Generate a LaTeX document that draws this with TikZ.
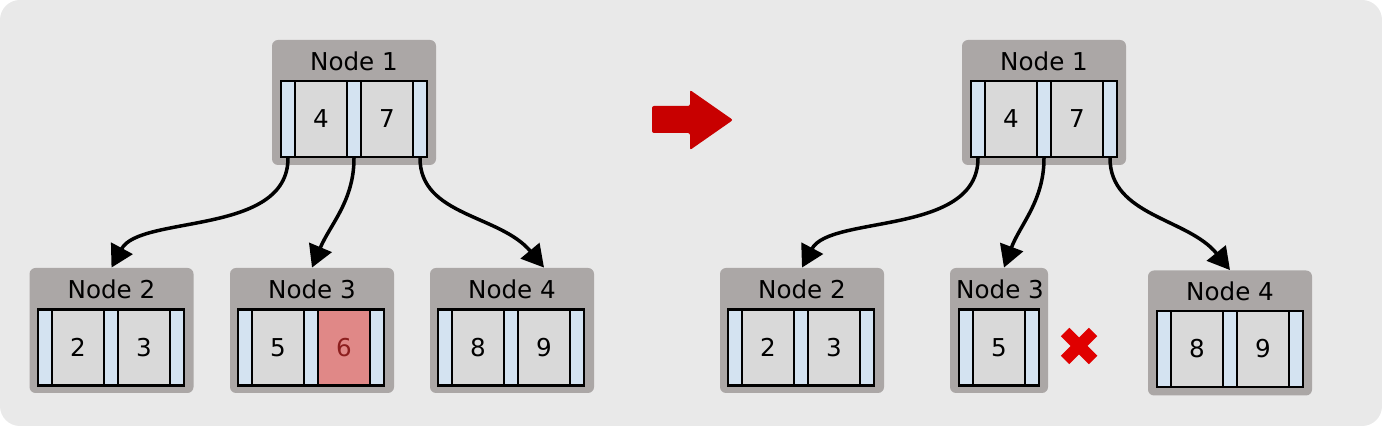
\documentclass[tikz,border=0pt]{standalone}
\usepackage{fontspec}
\setmainfont{DejaVu Sans}
\usetikzlibrary{arrows.meta}
\definecolor{bgGray}{HTML}{E9E9E9}
\definecolor{boxGray}{HTML}{ABA7A6}
\definecolor{keyGray}{HTML}{D9D9D9}
\definecolor{ptrBlue}{HTML}{D4E3F1}
\definecolor{delRed}{HTML}{E08887}
\definecolor{delText}{HTML}{8C1E1E}
\definecolor{moveRed}{HTML}{C80000}
\definecolor{crossRed}{HTML}{E00000}

\begin{document}
\begin{tikzpicture}[x=0.5pt, y=-0.5pt, font=\fontsize{12.3}{14}\selectfont,
  bbox/.style={fill=boxGray, rounded corners=3pt, inner sep=0, minimum width=82pt, minimum height=62.5pt},
  ptr/.style={draw, line width=1.1pt, fill=ptrBlue, inner sep=0, minimum width=7pt, minimum height=38pt},
  keycell/.style={draw, line width=1.1pt, fill=keyGray, inner sep=0, minimum width=26pt, minimum height=38pt},
  link/.style={line width=1.75pt, -{Triangle[length=11pt,width=12pt]}}]
\useasboundingbox (0,0) rectangle (1382,426);
\fill[white] (0,0) rectangle (1382,426);
\fill[bgGray, rounded corners=10pt] (0,0) rectangle (1382,426);

% before: left tree
\node[bbox] (L1) at (354,102.5) {};
\node (L1t) at (354,61) {Node 1};
\node[ptr] (L1p1) at (288,119) {};
\node[keycell] (L1k1) at (321,119) {4};
\node[ptr] (L1p2) at (354,119) {};
\node[keycell] (L1k2) at (387,119) {7};
\node[ptr] (L1p3) at (420,119) {};

\node[bbox] (L2) at (111.5,330.5) {};
\node (L2t) at (111.5,289) {Node 2};
\node[ptr] (L2p1) at (45,347.5) {};
\node[keycell] (L2k1) at (78,347.5) {2};
\node[ptr] (L2p2) at (111,347.5) {};
\node[keycell] (L2k2) at (144,347.5) {3};
\node[ptr] (L2p3) at (177,347.5) {};

\node[bbox] (L3) at (312,330.5) {};
\node (L3t) at (312,289) {Node 3};
\node[ptr] (L3p1) at (245,347.5) {};
\node[keycell] (L3k1) at (278,347.5) {5};
\node[ptr] (L3p2) at (311,347.5) {};
\node[keycell, fill=delRed, text=delText] (L3k2) at (344,347.5) {6};
\node[ptr] (L3p3) at (377,347.5) {};

\node[bbox] (L4) at (512,330.5) {};
\node (L4t) at (512,289) {Node 4};
\node[ptr] (L4p1) at (445,347.5) {};
\node[keycell] (L4k1) at (478,347.5) {8};
\node[ptr] (L4p2) at (511,347.5) {};
\node[keycell] (L4k2) at (544,347.5) {9};
\node[ptr] (L4p3) at (577,347.5) {};

\draw[link] (L1p1.south) .. controls +(0,78) and +(28.5,-53) .. (L2.north);
\draw[link] (L1p2.south) .. controls +(0,43) and +(18,-43) .. (L3.north);
\draw[link] (L1p3.south) .. controls +(0,58) and +(-44,-53) .. (L4k2.center |- L4.north);

% arrow between the two states
\fill[moveRed, rounded corners=1pt] (652,106) -- (690,106) -- (690,90) -- (733,120)
  -- (690,150) -- (690,133) -- (652,133) -- cycle;

% after: right tree
\node[bbox] (R1) at (1044,102.5) {};
\node (R1t) at (1044,61) {Node 1};
\node[ptr] (R1p1) at (978,119) {};
\node[keycell] (R1k1) at (1011,119) {4};
\node[ptr] (R1p2) at (1044,119) {};
\node[keycell] (R1k2) at (1077,119) {7};
\node[ptr] (R1p3) at (1110,119) {};

\node[bbox] (R2) at (802,330.5) {};
\node (R2t) at (802,289) {Node 2};
\node[ptr] (R2p1) at (735,347.5) {};
\node[keycell] (R2k1) at (768,347.5) {2};
\node[ptr] (R2p2) at (801,347.5) {};
\node[keycell] (R2k2) at (834,347.5) {3};
\node[ptr] (R2p3) at (867,347.5) {};

\node[bbox, minimum width=49pt] (R3) at (999,330.5) {};
\node (R3t) at (1000,289) {Node 3};
\node[ptr] (R3p1) at (966,347.5) {};
\node[keycell] (R3k1) at (999,347.5) {5};
\node[ptr] (R3p2) at (1032,347.5) {};

\node[bbox] (R4) at (1230,333) {};
\node (R4t) at (1230,291) {Node 4};
\node[ptr] (R4p1) at (1164,349) {};
\node[keycell] (R4k1) at (1197,349) {8};
\node[ptr] (R4p2) at (1230,349) {};
\node[keycell] (R4k2) at (1263,349) {9};
\node[ptr] (R4p3) at (1296,349) {};

\draw[link] (R1p1.south) .. controls +(0,78) and +(28,-53) .. (R2.north);
\draw[link] (R1p2.south) .. controls +(0,43) and +(16,-43) .. ([xshift=2.5pt]R3.north);
\draw[link] (R1p3.south) .. controls +(0,58) and +(-42,-52) .. (R4.north);

% removed key
\draw[crossRed, line width=6pt] (1065,332) -- (1093,360) (1093,332) -- (1065,360);
\end{tikzpicture}
\end{document}
